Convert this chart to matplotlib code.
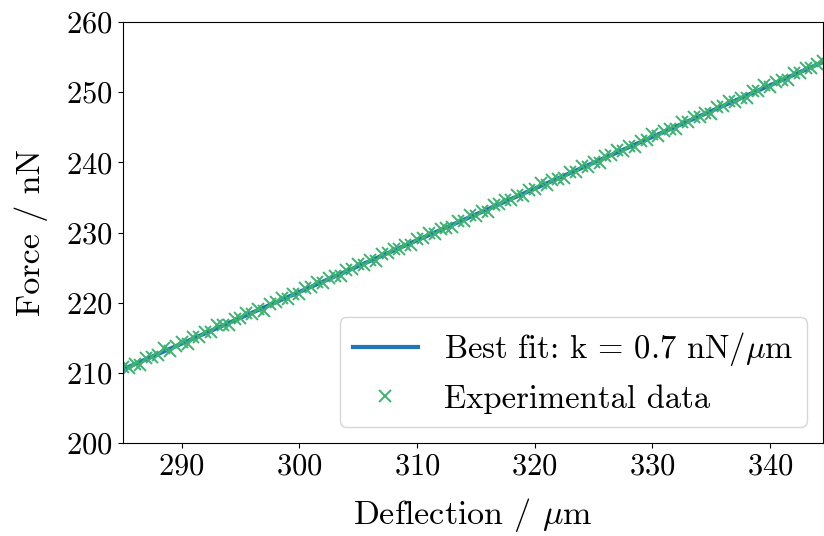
import numpy as np
import matplotlib
matplotlib.use('Agg')
import matplotlib.pyplot as plt

plt.rcParams['font.family'] = 'cmr10'
plt.rcParams['mathtext.fontset'] = 'cm'
plt.rcParams['axes.formatter.use_mathtext'] = True
plt.rcParams['font.size'] = 22

deflexao = [
    285.0, 285.5, 286.0, 286.5, 287.0, 287.5, 288.0, 288.5, 289.0, 289.5,
    290.0, 290.5, 291.0, 291.5, 292.0, 292.5, 293.0, 293.5, 294.0, 294.5,
    295.0, 295.5, 296.0, 296.5, 297.0, 297.5, 298.0, 298.5, 299.0, 299.5,
    300.0, 300.5, 301.0, 301.5, 302.0, 302.5, 303.0, 303.5, 304.0, 304.5,
    305.0, 305.5, 306.0, 306.5, 307.0, 307.5, 308.0, 308.5, 309.0, 309.5,
    310.0, 310.5, 311.0, 311.5, 312.0, 312.5, 313.0, 313.5, 314.0, 314.5,
    315.0, 315.5, 316.0, 316.5, 317.0, 317.5, 318.0, 318.5, 319.0, 319.5,
    320.0, 320.5, 321.0, 321.5, 322.0, 322.5, 323.0, 323.5, 324.0, 324.5,
    325.0, 325.5, 326.0, 326.5, 327.0, 327.5, 328.0, 328.5, 329.0, 329.5,
    330.0, 330.5, 331.0, 331.5, 332.0, 332.5, 333.0, 333.5, 334.0, 334.5,
    335.0, 335.5, 336.0, 336.5, 337.0, 337.5, 338.0, 338.5, 339.0, 339.5,
    340.0, 340.5, 341.0, 341.5, 342.0, 342.5, 343.0, 343.5, 344.0, 344.5,
]

forca = [
    210.8, 210.7, 211.3, 211.2, 212.2, 212.3, 212.6, 213.5, 213.1, 213.9,
    214.4, 214.2, 215.2, 215.2, 215.8, 215.8, 216.8, 216.8, 216.8, 217.7,
    217.8, 218.5, 218.4, 219.1, 218.9, 219.9, 220.1, 220.7, 220.6, 221.3,
    221.2, 222.1, 222.2, 223.0, 222.8, 223.5, 223.8, 223.8, 224.7, 224.8,
    225.5, 225.4, 226.1, 225.9, 226.9, 227.1, 227.7, 227.6, 228.3, 228.2,
    229.1, 229.2, 230.0, 229.8, 230.5, 230.7, 230.8, 231.7, 231.7, 232.5,
    232.4, 233.1, 232.9, 233.9, 234.1, 234.7, 234.6, 235.3, 235.2, 236.1,
    236.2, 237.0, 236.8, 237.5, 237.7, 237.8, 238.7, 238.7, 239.5, 239.4,
    240.0, 239.9, 240.9, 241.0, 241.7, 241.6, 242.3, 242.2, 243.1, 243.2,
    244.0, 243.8, 244.5, 244.7, 244.8, 245.7, 245.7, 246.5, 246.4, 247.0,
    246.9, 247.9, 248.0, 248.7, 248.6, 249.2, 249.2, 250.1, 250.1, 251.0,
    250.8, 251.5, 251.7, 251.8, 252.7, 252.7, 253.5, 253.4, 254.0, 254.5,
]

COR_AJUSTE = '#1f77b4'
COR_DADOS = '#3cb371'


def main():
    x = np.array(deflexao)
    y = np.array(forca)
    k, b = np.polyfit(x, y, 1)

    fig = plt.figure(figsize=(8.24, 5.36), dpi=100)
    ax = fig.add_axes([0.149, 0.173, 0.850, 0.786])

    ax.plot(x, k * x + b, color=COR_AJUSTE, linewidth=3,
            label=r'Best fit: k = 0.7 nN/$\mu$m')
    ax.plot(x, y, 'x', color=COR_DADOS, markersize=8, markeredgewidth=1.4,
            label='Experimental data')

    ax.set_xlim(x.min(), x.max())
    ax.set_ylim(200, 260)
    ax.set_xticks([290, 300, 310, 320, 330, 340])
    ax.set_xlabel(r'Deflection / $\mu$m', fontsize=24.5, labelpad=11)
    ax.set_ylabel('Force / nN', fontsize=24.5, labelpad=13)
    ax.legend(loc='lower right', fontsize=23.5)

    fig.savefig('out.png', dpi=100)


if __name__ == '__main__':
    main()
